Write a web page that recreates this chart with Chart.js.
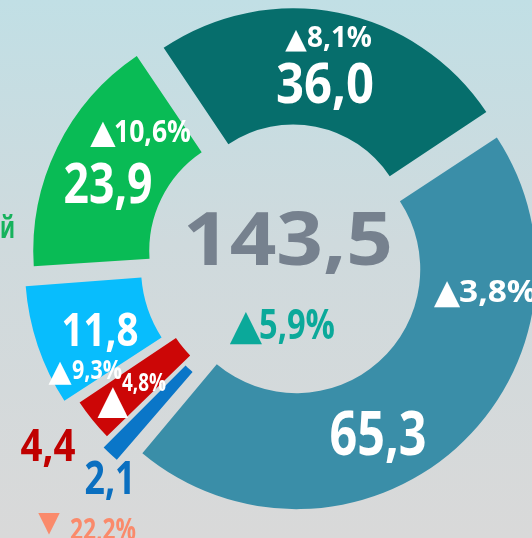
<!DOCTYPE html>
<html>
<head>
<meta charset="utf-8">
<script src="https://cdn.jsdelivr.net/npm/chart.js@4"></script>
<style>
  html, body { margin: 0; padding: 0; width: 532px; height: 538px; overflow: hidden; }
  body { background: linear-gradient(to bottom, #c1dfe5 0%, #cfdadd 45%, #d9d9d9 100%); position: relative; }
  #wrap { position: absolute; left: 0; top: 0; width: 578px; height: 560px; }
</style>
</head>
<body>
<div id="wrap"><canvas id="donut" width="578" height="560"></canvas></div>
<script>
// values in clockwise order, starting at the big segment on the right
const categories = ['Сегмент 1', 'Сегмент 2', 'Сегмент 3', 'Сегмент 4', 'Сегмент 5', 'Сегмент 6'];
const values = [65.3, 2.1, 4.4, 11.8, 23.9, 36.0];
const changes = [3.8, -22.2, 4.8, 9.3, 10.6, 8.1];
const totalValue = 143.5;
const totalChange = 5.9;
const cutLabel = 'й';

const colors = ['#3a8ea8', '#0a76c8', '#cc0606', '#08bdfd', '#09bb55', '#066e6c'];
const offsets = [44, 65, 46, 88, 92, 84];

const fmt = v => Math.abs(v).toFixed(1).replace('.', ',');
const arrow = v => v >= 0 ? '▲' : '▼';
const FONT = '"Open Sans", "DejaVu Sans", sans-serif';
const ARROW_FONT = '"DejaVu Sans", sans-serif';

// value labels: x centre, baseline, font size, squeezed width, colour
const valueLayout = [
    [378, 455, 60, 97, '#fff'],
    [110, 494, 46, 51, '#0a6fc0'],
    [48, 461, 45, 55, '#c00000'],
    [100, 346, 46, 77, '#fff'],
    [108, 203, 56, 89, '#fff'],
    [325, 103, 56, 98, '#fff']
];
// change labels: arrow centre x, arrow baseline, arrow size, number left x, baseline, size, width, colour
const changeLayout = [
    [447, 303, 34, 459, 302, 30, 78, '#fff'],
    [49, 531, 28, 70, 540, 31, 66, '#fa8a6b'],
    [113, 413, 40, 122, 391, 25, 44, '#fff'],
    [60, 381, 30, 72, 379, 27, 50, '#fff'],
    [103, 143, 33, 114, 142, 30, 77, '#fff'],
    [296, 48, 28, 307, 47, 28, 65, '#fff']
];

const labelsPlugin = {
    id: 'labels',
    afterDraw(chart) {
        const ctx = chart.ctx;
        const text = (s, x, y, size, w, color, align, font) => {
            ctx.save();
            ctx.font = 'bold ' + size + 'px ' + (font || FONT);
            ctx.fillStyle = color;
            ctx.textBaseline = 'alphabetic';
            ctx.textAlign = align || 'center';
            const sx = w ? w / ctx.measureText(s).width : 1;
            ctx.translate(x, y);
            ctx.scale(sx, 1);
            ctx.fillText(s, 0, 0);
            ctx.restore();
        };
        values.forEach((v, i) => {
            const l = valueLayout[i];
            text(fmt(v), l[0], l[1], l[2], l[3], l[4]);
            const c = changeLayout[i];
            text(arrow(changes[i]), c[0], c[1], c[2], null, c[7], 'center', ARROW_FONT);
            text(fmt(changes[i]) + '%', c[3], c[4], c[5], c[6], c[7], 'left');
        });
        // middle
        text(fmt(totalValue), 288, 265, 73, 210, '#76818e');
        text(arrow(totalChange), 246, 339, 42, null, '#0ba99a', 'center', ARROW_FONT);
        text(fmt(totalChange) + '%', 259, 339, 42, 76, '#0ba99a', 'left');
        text(cutLabel, 0, 238, 30, 15, '#16b25c', 'left');
    }
};

new Chart(document.getElementById('donut'), {
    type: 'doughnut',
    data: {
        labels: categories,
        datasets: [{
            data: values,
            backgroundColor: colors,
            borderWidth: 0,
            offset: offsets
        }]
    },
    options: {
        responsive: false,
        animation: false,
        rotation: 56.4,
        radius: 232,
        cutout: '50%',
        layout: { padding: { bottom: 38 } },
        plugins: {
            legend: { display: false },
            tooltip: { enabled: false }
        }
    },
    plugins: [labelsPlugin]
});
</script>
</body>
</html>
